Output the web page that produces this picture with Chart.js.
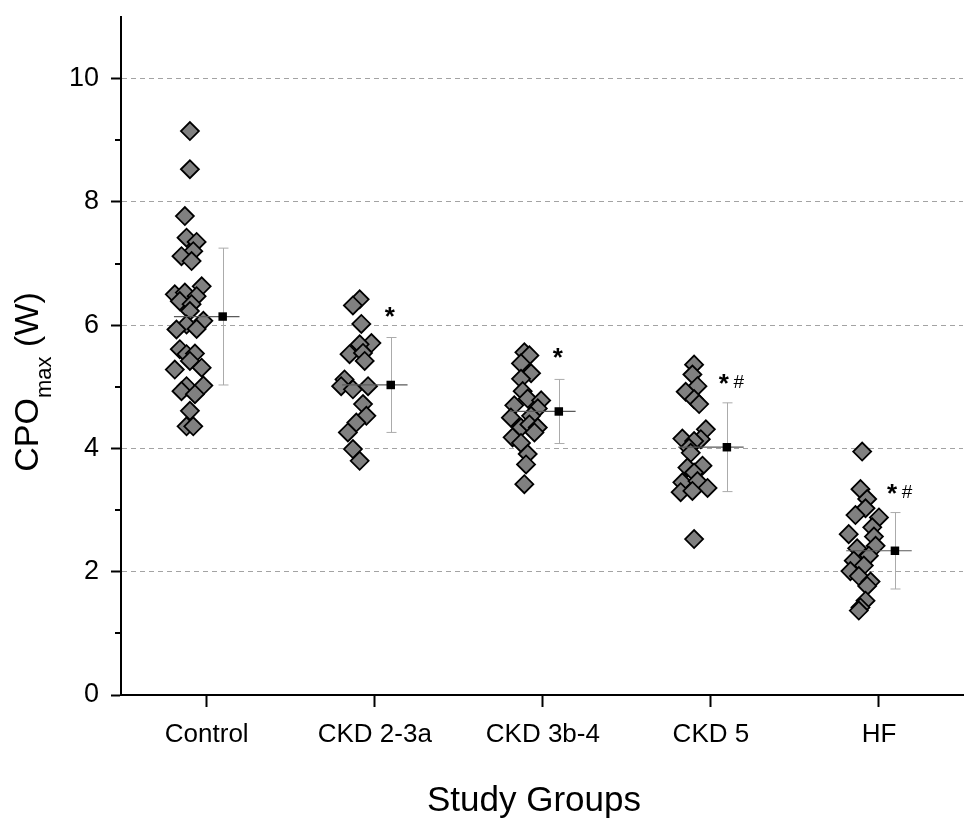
<!DOCTYPE html>
<html>
<head>
<meta charset="utf-8">
<script src="https://cdn.jsdelivr.net/npm/chart.js@4.4.1/dist/chart.umd.min.js"></script>
<style>
  html, body { margin: 0; padding: 0; background: #fff; }
</style>
</head>
<body>
<canvas id="chart" width="964" height="825"></canvas>
<script>
const groups = ["Control", "CKD 2-3a", "CKD 3b-4", "CKD 5", "HF"];

// individual values per group, and their horizontal spread (category units)
const controlValues = [9.15, 8.53, 7.77, 7.42, 7.35, 7.20, 7.12, 7.04, 6.63, 6.50, 6.53, 6.47, 6.39, 6.34, 6.23, 6.07, 6.01, 5.93, 5.94, 5.61, 5.53, 5.54, 5.42, 5.28, 5.31, 5.01, 5.02, 4.93, 4.88, 4.61, 4.36, 4.36];
const controlJitter = [-0.10, -0.10, -0.13, -0.12, -0.06, -0.08, -0.15, -0.09, -0.03, -0.19, -0.13, -0.06, -0.16, -0.09, -0.10, -0.02, -0.12, -0.18, -0.06, -0.16, -0.12, -0.07, -0.10, -0.19, -0.03, -0.12, -0.02, -0.15, -0.07, -0.10, -0.12, -0.08];

const ckd23aValues = [6.42, 6.32, 6.02, 5.71, 5.69, 5.53, 5.55, 5.42, 5.12, 5.01, 4.96, 5.01, 4.72, 4.53, 4.42, 4.26, 3.99, 3.80];
const ckd23aJitter = [-0.09, -0.13, -0.08, -0.02, -0.09, -0.15, -0.07, -0.06, -0.18, -0.20, -0.13, -0.04, -0.07, -0.05, -0.11, -0.16, -0.13, -0.09];

const ckd3b4Values = [5.56, 5.51, 5.38, 5.22, 5.13, 4.93, 4.81, 4.78, 4.70, 4.65, 4.50, 4.53, 4.34, 4.39, 4.34, 4.26, 4.18, 4.09, 3.91, 3.74, 3.42];
const ckd3b4Jitter = [-0.11, -0.08, -0.13, -0.07, -0.13, -0.12, -0.09, -0.01, -0.17, -0.03, -0.19, -0.07, -0.13, -0.08, -0.03, -0.05, -0.18, -0.13, -0.09, -0.10, -0.11];

const ckd5Values = [5.36, 5.20, 5.01, 4.92, 4.80, 4.72, 4.31, 4.16, 4.15, 4.12, 4.01, 3.93, 3.69, 3.72, 3.61, 3.45, 3.47, 3.36, 3.29, 3.31, 2.53];
const ckd5Jitter = [-0.10, -0.11, -0.08, -0.15, -0.10, -0.07, -0.03, -0.17, -0.06, -0.10, -0.13, -0.12, -0.14, -0.05, -0.10, -0.17, -0.08, -0.02, -0.18, -0.11, -0.10];

const hfValues = [3.95, 3.34, 3.18, 3.03, 2.92, 2.88, 2.72, 2.61, 2.57, 2.42, 2.38, 2.26, 2.18, 2.10, 2.01, 1.93, 1.84, 1.77, 1.53, 1.42, 1.37];
const hfJitter = [-0.10, -0.11, -0.07, -0.08, -0.14, 0.00, -0.04, -0.18, -0.03, -0.02, -0.13, -0.06, -0.15, -0.09, -0.17, -0.12, -0.05, -0.07, -0.08, -0.11, -0.12];

// summary per group: mean and SD, and significance marks
const means = [6.14, 5.03, 4.60, 4.02, 2.34];
const sds = [1.11, 0.77, 0.52, 0.72, 0.62];
const marks = ["", "*", "*", "*#", "*#"];

const yMajorTicks = [0, 2, 4, 6, 8, 10];
const yMinorTicks = [1, 3, 5, 7, 9];

const FONT = "'Liberation Sans', Arial, sans-serif";
const meanShift = 0.095;   // mean marker / error bar sits right of the cloud
const meanHalfLine = 0.195;

const groupValues = [controlValues, ckd23aValues, ckd3b4Values, ckd5Values, hfValues];
const groupJitter = [controlJitter, ckd23aJitter, ckd3b4Jitter, ckd5Jitter, hfJitter];

const pointSets = groupValues.map((vals, g) => ({
  label: groups[g],
  data: vals.map((v, i) => ({ x: g + 1 + groupJitter[g][i], y: v })),
  pointStyle: "rectRot",
  pointRadius: 9,
  backgroundColor: "#808080",
  borderColor: "#000",
  borderWidth: 1.8,
  order: 1
}));

const meanSet = {
  label: "Mean",
  data: means.map((m, g) => ({ x: g + 1 + meanShift, y: m })),
  pointStyle: "rect",
  pointRadius: 6,
  backgroundColor: "#000",
  borderColor: "#000",
  borderWidth: 0,
  order: 0
};
const meanIndex = pointSets.length;

const overlay = {
  id: "overlay",
  beforeDatasetDraw(chart, args) {
    if (args.index !== meanIndex) return;
    const { ctx, scales: { x, y } } = chart;
    ctx.save();
    means.forEach((m, g) => {
      const c = g + 1;
      const ym = y.getPixelForValue(m);
      // mean line
      ctx.strokeStyle = "#5a5a5a";
      ctx.lineWidth = 1.2;
      ctx.beginPath();
      ctx.moveTo(x.getPixelForValue(c - meanHalfLine), ym);
      ctx.lineTo(x.getPixelForValue(c + meanHalfLine), ym);
      ctx.stroke();
      // SD bar
      const xb = Math.round(x.getPixelForValue(c + meanShift)) + 0.5;
      const yt = y.getPixelForValue(m + sds[g]);
      const yb = y.getPixelForValue(m - sds[g]);
      ctx.strokeStyle = "#ababab";
      ctx.lineWidth = 1;
      ctx.beginPath();
      ctx.moveTo(xb, yt); ctx.lineTo(xb, yb);
      ctx.moveTo(xb - 5, yt); ctx.lineTo(xb + 5, yt);
      ctx.moveTo(xb - 5, yb); ctx.lineTo(xb + 5, yb);
      ctx.stroke();
    });
    ctx.restore();
  },
  afterDraw(chart) {
    const { ctx, chartArea, scales: { x, y } } = chart;
    ctx.save();
    // minor ticks on y
    ctx.strokeStyle = "#000";
    ctx.lineWidth = 2;
    yMinorTicks.forEach(v => {
      const py = Math.round(y.getPixelForValue(v));
      ctx.beginPath();
      ctx.moveTo(chartArea.left - 6, py);
      ctx.lineTo(chartArea.left, py);
      ctx.stroke();
    });
    // significance marks
    ctx.fillStyle = "#000";
    ctx.textBaseline = "alphabetic";
    marks.forEach((mk, g) => {
      if (!mk) return;
      const cx = x.getPixelForValue(g + 1 + meanShift);
      const top = y.getPixelForValue(means[g] + sds[g]);
      ctx.font = "bold 26px " + FONT;
      ctx.textAlign = "center";
      if (mk.length === 1) {
        ctx.fillText("*", cx - 1, top - 13);
      } else {
        ctx.fillText("*", cx - 3, top - 11);
        ctx.font = "19px " + FONT;
        ctx.fillText("#", cx + 12, top - 15);
      }
    });
    // x title
    ctx.font = "35px " + FONT;
    ctx.textAlign = "center";
    ctx.fillText("Study Groups", 534, 811);
    // y title with subscript
    ctx.translate(38, 382);
    ctx.rotate(-Math.PI / 2);
    ctx.textAlign = "left";
    const big = "34px " + FONT, small = "22px " + FONT;
    ctx.font = big;
    const w1 = ctx.measureText("CPO").width;
    const w3 = ctx.measureText(" (W)").width;
    ctx.font = small;
    const w2 = ctx.measureText("max").width;
    const sx = -(w1 + w2 + w3) / 2;
    ctx.font = big;
    ctx.fillText("CPO", sx, 0);
    ctx.font = small;
    ctx.fillText("max", sx + w1, 13);
    ctx.font = big;
    ctx.fillText(" (W)", sx + w1 + w2, 0);
    ctx.restore();
  }
};

new Chart(document.getElementById("chart").getContext("2d"), {
  type: "scatter",
  data: { datasets: [...pointSets, meanSet] },
  options: {
    responsive: false,
    animation: false,
    events: [],
    layout: { autoPadding: false, padding: { top: 17, right: 1, left: 0, bottom: 0 } },
    plugins: { legend: { display: false }, tooltip: { enabled: false } },
    scales: {
      x: {
        type: "linear",
        min: 0.49,
        max: 5.5,
        afterBuildTicks: s => { s.ticks = groups.map((g, i) => ({ value: i + 1 })); },
        afterFit: s => {
          s.height = 130;
          s.paddingLeft = 0; s.paddingRight = 0;
        },
        ticks: {
          callback: v => groups[v - 1],
          font: { family: FONT, size: 26 },
          color: "#000",
          padding: 12,
          maxRotation: 0,
          autoSkip: false
        },
        grid: { drawOnChartArea: false, tickLength: 12, tickColor: "#000", tickWidth: 2 },
        border: { color: "#000", width: 2 }
      },
      y: {
        min: 0,
        max: 11,
        afterBuildTicks: s => { s.ticks = yMajorTicks.map(v => ({ value: v })); },
        afterFit: s => {
          s.width = 121;
          s.paddingTop = 0; s.paddingBottom = 0;
        },
        ticks: {
          font: { family: FONT, size: 27 },
          color: "#000",
          padding: 12
        },
        grid: {
          color: c => (c.tick && c.tick.value > 0 ? "#a3a3a3" : "transparent"),
          lineWidth: 1,
          tickLength: 10,
          tickColor: "#000",
          tickWidth: 2
        },
        border: { color: "#000", width: 2, dash: [5, 4] }
      }
    }
  },
  plugins: [overlay]
});
</script>
</body>
</html>
